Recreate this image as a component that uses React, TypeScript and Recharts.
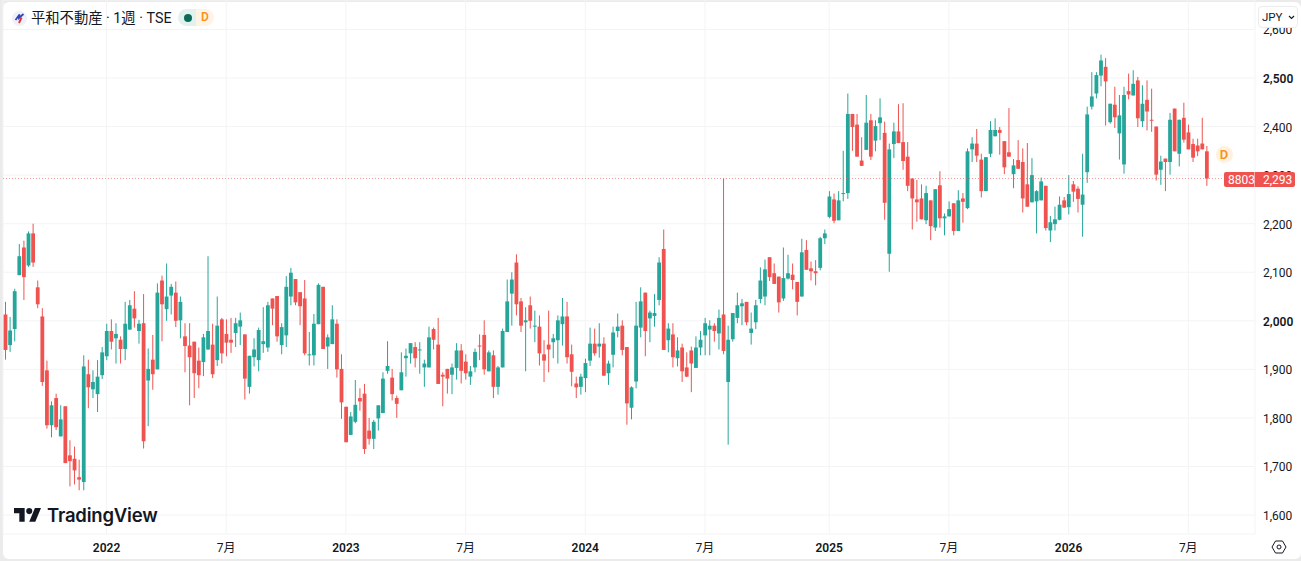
import React from "react";
import { ComposedChart, Bar, XAxis, YAxis, CartesianGrid, ReferenceLine } from "recharts";

const opens = [
  2013,1950,1983,2094,2151,2114,2180,2069,2009,1898,1785,1841,1762,1824,1723,1716,1678,1668,1890,1859,
  1849,1888,1927,1979,1964,1961,1942,1982,2025,1979,1995,1877,1920,1900,2083,2024,2052,2058,2001,1968,
  1949,1957,1918,1915,1941,1951,1919,2003,1973,1961,1975,1988,1972,1864,1925,1919,1952,1945,2046,2051,
  1950,1970,2050,2086,2059,2046,1930,1929,1993,2070,1947,1952,1994,1901,1823,1765,1792,1841,1850,1774,
  1757,1799,1810,1897,1883,1841,1857,1923,1933,1946,1940,1904,1904,1983,1951,1889,1901,1889,1903,1939,
  1916,1885,1904,1949,1971,1896,1929,1864,1904,1977,2056,2120,2040,1997,2032,1989,1988,1931,1951,1956,
  1960,1993,2009,1931,1871,1864,1882,1918,1953,1947,1953,1892,1930,1979,1990,1946,1821,1875,1986,2058,
  2005,2010,2043,2148,1960,1972,1923,1945,1904,1939,1903,1945,1970,1982,1990,1974,2013,1874,1962,2006,
  2030,2039,1975,1997,2045,2050,2131,2098,2091,2046,2087,2095,2080,2050,2146,2108,2102,2109,2170,2214,
  2250,2207,2262,2263,2426,2404,2330,2352,2413,2371,2407,2387,2138,2364,2390,2368,2338,2293,2250,2252,
  2207,2248,2192,2279,2211,2215,2242,2185,2252,2232,2353,2365,2332,2267,2344,2380,2393,2370,2347,2302,
  2331,2327,2281,2244,2246,2248,2278,2186,2199,2208,2248,2234,2281,2272,2239,2306,2441,2468,2505,2523,
  2409,2445,2386,2322,2473,2464,2495,2411,2455,2414,2400,2311,2334,2327,2437,2344,2418,2388,2364,2361,
  2365,2349,
];
const highs = [
  2039,2008,2066,2158,2165,2184,2200,2083,2026,1918,1834,1850,1826,1824,1754,1741,1714,1929,1920,1898,
  1919,1946,1994,2003,1995,1968,2039,2043,2061,2002,2055,1943,1971,2077,2093,2118,2076,2081,2050,1995,
  1995,1957,1945,1973,2133,1994,2050,2006,2003,2006,2006,2017,1972,1928,1964,1986,2028,2039,2046,2051,
  1995,2092,2109,2086,2059,2084,1977,2014,2077,2070,1972,2032,2003,1931,1823,1812,1878,1861,1870,1800,
  1796,1826,1894,1958,1901,1846,1935,1943,1954,1956,1956,1920,1988,1986,2006,1894,1901,1912,1954,1952,
  1931,1907,1943,1972,2001,1939,1939,1907,1984,2085,2100,2137,2047,2028,2050,2021,2011,1960,2021,1973,
  2011,2047,2039,1951,1885,1891,1922,1986,1984,1995,1966,1918,1988,2015,2001,1946,1865,2039,2069,2058,
  2021,2055,2131,2188,1995,1995,1966,1953,1935,1947,1968,1979,2006,2001,1995,2023,2293,1990,2016,2058,
  2045,2039,2017,2043,2110,2126,2131,2118,2091,2151,2136,2118,2080,2169,2166,2122,2125,2173,2188,2267,
  2262,2267,2350,2468,2426,2426,2378,2465,2426,2413,2458,2410,2365,2408,2446,2448,2368,2293,2290,2281,
  2278,2248,2271,2308,2221,2246,2242,2269,2263,2355,2378,2395,2344,2337,2411,2417,2399,2370,2438,2333,
  2372,2355,2366,2335,2269,2295,2278,2216,2235,2256,2255,2300,2288,2277,2344,2441,2512,2512,2548,2541,
  2447,2482,2465,2482,2509,2516,2502,2485,2495,2478,2400,2340,2334,2428,2437,2414,2449,2404,2375,2375,
  2418,2360,
];
const lows = [
  1920,1936,1958,2094,2043,2111,2111,2026,1866,1778,1760,1775,1762,1707,1659,1663,1651,1651,1820,1841,
  1812,1880,1919,1941,1912,1912,1919,1981,1986,1953,1737,1783,1858,1900,1958,2000,2013,1987,1964,1894,
  1826,1841,1861,1886,1940,1882,1907,1912,1927,1934,1946,1950,1838,1850,1906,1896,1934,1936,1991,1957,
  1931,1946,2032,2032,1991,1929,1908,1908,1993,1942,1901,1952,1883,1798,1750,1765,1789,1815,1726,1745,
  1736,1774,1810,1891,1836,1800,1857,1885,1912,1904,1891,1864,1904,1941,1870,1824,1850,1849,1879,1871,
  1879,1868,1894,1919,1889,1896,1841,1848,1904,1977,1990,2011,1977,1896,1984,1956,1908,1874,1894,1923,
  1912,1949,1912,1865,1841,1848,1853,1907,1928,1924,1887,1868,1904,1966,1929,1786,1797,1861,1966,1927,
  1956,1988,2032,1940,1935,1904,1906,1874,1884,1853,1903,1929,1929,1929,1957,1941,1931,1745,1957,1995,
  1991,1991,1951,1983,2036,2032,2082,2076,2017,2041,2085,2065,2011,2050,2105,2083,2073,2104,2158,2211,
  2201,2207,2246,2251,2350,2338,2319,2352,2331,2349,2372,2208,2101,2335,2366,2311,2267,2188,2204,2209,
  2199,2166,2185,2192,2176,2215,2176,2185,2202,2230,2327,2327,2254,2267,2337,2380,2342,2302,2338,2273,
  2313,2223,2235,2244,2180,2248,2186,2162,2186,2207,2233,2219,2245,2223,2173,2284,2435,2458,2483,2402,
  2406,2397,2332,2303,2456,2464,2399,2399,2392,2389,2289,2280,2267,2301,2349,2318,2367,2353,2327,2339,
  2353,2278,
];
const closes = [
  1940,1980,2061,2133,2090,2180,2120,2034,1874,1785,1826,1781,1797,1707,1711,1692,1673,1906,1863,1874,
  1885,1935,1979,1957,1973,1942,1994,2032,2005,1994,1752,1901,1890,2058,2034,2050,2070,2000,2039,1948,
  1925,1892,1888,1966,1979,1890,1990,1933,1955,1955,1995,2001,1881,1928,1941,1981,1958,2032,2025,1968,
  1987,2070,2099,2038,2030,1933,1931,1994,2074,1942,1966,2003,1900,1832,1750,1803,1827,1834,1736,1757,
  1792,1826,1881,1907,1849,1829,1894,1928,1954,1923,1941,1912,1966,1961,1870,1885,1881,1904,1939,1897,
  1892,1896,1936,1948,1900,1935,1864,1904,1979,2040,2085,2034,1990,2001,2000,1990,1933,1918,1941,1964,
  2001,2009,1925,1895,1863,1885,1913,1953,1933,1953,1887,1912,1976,1988,1940,1830,1863,1990,2040,1979,
  2017,2016,2120,1940,1984,1925,1939,1896,1885,1912,1945,1961,1995,1990,1979,2006,1938,1961,2016,2032,
  2036,1997,1984,2032,2083,2106,2090,2076,2038,2088,2098,2084,2039,2141,2105,2102,2098,2170,2180,2256,
  2206,2248,2263,2426,2399,2338,2319,2408,2338,2401,2419,2243,2353,2390,2366,2329,2278,2252,2244,2209,
  2263,2195,2271,2211,2215,2230,2185,2248,2245,2349,2365,2340,2267,2337,2393,2393,2387,2316,2338,2320,
  2313,2252,2235,2300,2267,2287,2191,2203,2209,2239,2233,2261,2266,2251,2260,2425,2462,2506,2536,2493,
  2447,2419,2423,2465,2466,2488,2417,2447,2431,2413,2301,2328,2327,2414,2349,2414,2373,2353,2336,2349,
  2353,2293,
];
const emptyWeeksAfter = 10;
const priceTicks = [1600,1700,1800,1900,2000,2100,2200,2300,2400,2500,2600];
const boldPrices = [2000,2500];
const priceDomain = [1561, 2660.6];
const timeTickWeeks = [22,48,74,100,126,152,179,205,231,257];
const timeTickLabels = ["2022","7月","2023","7月","2024","7月","2025","7月","2026","7月"];
const lastClose = 2293;
const lastCloseText = "2,293";
const symbolCode = "8803";

const UP = "#26a69a";
const DOWN = "#ef5350";
const INK = "#131722";
const GRID = "#f3f4f6";
const FONT = 'Roboto, "Noto Sans CJK JP", sans-serif';
const PLOT_H = 534;

const rows = [
  ...opens.map((o, i) => ({
    week: i, open: o, high: highs[i], low: lows[i], close: closes[i],
    range: [lows[i], highs[i]],
  })),
  ...Array.from({ length: emptyWeeksAfter }, (_, k) => ({ week: opens.length + k, range: null })),
];

function Candle(props: any) {
  const { x, y, width, height, payload } = props;
  if (!payload || payload.range == null || !height) return null;
  const { open, high, low, close } = payload;
  const k = height / (high - low);
  const cx = x + width / 2;
  const top = y + (high - Math.max(open, close)) * k;
  const bottom = y + (high - Math.min(open, close)) * k;
  const color = close >= open ? UP : DOWN;
  const bodyW = 3.8;
  return (
    <g>
      <line x1={cx} x2={cx} y1={y} y2={y + height} stroke={color} strokeWidth={1} />
      <rect x={cx - bodyW / 2} y={top} width={bodyW} height={Math.max(bottom - top, 1)} fill={color} />
    </g>
  );
}

function PriceTick(props: any) {
  const { x, y, payload } = props;
  const bold = boldPrices.includes(payload.value);
  return (
    <text x={x} y={y} dy={5} textAnchor="start" fontFamily={FONT} fontSize={12}
      fontWeight={bold ? 600 : 400} fill={INK}>
      {payload.value.toLocaleString("en-US")}
    </text>
  );
}

function TimeTick(props: any) {
  const { x, y, payload } = props;
  const label = timeTickLabels[timeTickWeeks.indexOf(payload.value)];
  const isYear = /^\d+$/.test(label ?? "");
  return (
    <text x={x} y={y} dy={5.5} textAnchor="middle" fontFamily={FONT} fontSize={12}
      fontWeight={isYear ? 600 : 400} fill={INK}>
      {label}
    </text>
  );
}

const abs = (s: React.CSSProperties): React.CSSProperties => ({ position: "absolute", ...s });

export default function App() {
  const lastY = ((priceDomain[1] - lastClose) / (priceDomain[1] - priceDomain[0])) * PLOT_H;
  return (
    <div style={abs({ left: 0, top: 0, width: 1301, height: 561, background: "#ebebeb", overflow: "hidden", fontFamily: FONT })}>
      <div style={abs({ left: 3, top: 2, width: 1298, height: 557, background: "#ffffff", borderRadius: 6 })} />
      <div style={abs({ left: 0, top: 0 })}>
        <ComposedChart width={1301} height={561} data={rows} barCategoryGap={0}
          margin={{ top: 0, right: 0, bottom: 0, left: 3 }}>
          <CartesianGrid stroke={GRID} strokeWidth={1} />
          <XAxis dataKey="week" type="category" ticks={timeTickWeeks} interval={0} height={27}
            axisLine={false} tickLine={false} tickMargin={6} tick={<TimeTick />} />
          <YAxis orientation="right" width={46} domain={priceDomain} allowDataOverflow ticks={priceTicks}
            axisLine={false} tickLine={false} tickMargin={0} tickSize={8} tick={<PriceTick />} />
          <Bar dataKey="range" shape={<Candle />} isAnimationActive={false} />
          <ReferenceLine y={lastClose} stroke={DOWN} strokeDasharray="1 2" strokeOpacity={0.6} />
        </ComposedChart>
      </div>

      {/* Last price badge, above the axis labels */}
      <div style={abs({ left: 1224, top: lastY - 7, width: 71, height: 15.5, background: DOWN, borderRadius: 2,
        color: "#ffffff", fontSize: 12, lineHeight: "16px", whiteSpace: "nowrap" })}>
        <span style={abs({ left: 4 })}>{symbolCode}</span>
        <span style={abs({ left: 30, top: 0, width: 1, height: 15.5, background: "rgba(255,255,255,0.5)" })} />
        <span style={abs({ left: 39 })}>{lastCloseText}</span>
      </div>

      {/* Header */}
      <div style={abs({ left: 12, top: 11, width: 15, height: 15, borderRadius: 8, background: "#eef0fa" })}>
        <svg width={15} height={15} viewBox="0 0 15 15" style={{ display: "block" }}>
          <path d="M3.5 9 L7.5 3.5 L7 7 L11.5 3" stroke="#2f45b5" strokeWidth={1.7} fill="none" />
          <path d="M9.5 6.5 L7 12" stroke="#e2333b" strokeWidth={1.9} fill="none" />
        </svg>
      </div>
      <div style={abs({ left: 31, top: 9, height: 18, lineHeight: "18px", fontSize: 14.3, color: INK, whiteSpace: "nowrap" })}>
        平和不動産 · 1週 · TSE
      </div>
      <div style={abs({ left: 178, top: 9, width: 18, height: 17, background: "#e1f2ee", borderRadius: "9px 0 0 9px" })}>
        <div style={abs({ left: 6, top: 4.5, width: 8, height: 8, borderRadius: 4, background: "#0b6b58" })} />
      </div>
      <div style={abs({ left: 196, top: 9, width: 18, height: 17, background: "#fff3e3", borderRadius: "0 9px 9px 0",
        color: "#f7931e", fontSize: 12, fontWeight: 600, textAlign: "center", lineHeight: "17px" })}>D</div>

      {/* Currency button */}
      <div style={abs({ left: 1258, top: 6, width: 40, height: 22, boxSizing: "border-box", background: "#ffffff",
        border: "1px solid #ececec", borderRadius: 4, fontSize: 11.5, color: INK, lineHeight: "21px", paddingLeft: 3 })}>
        JPY
        <svg width={7} height={5} viewBox="0 0 7 5" style={{ position: "absolute", left: 29, top: 8 }}>
          <path d="M1 1 L3.5 3.5 L6 1" stroke={INK} strokeWidth={1.1} fill="none" />
        </svg>
      </div>

      {/* Last value marker */}
      <div style={abs({ left: 1215.5, top: 145.5, width: 17, height: 17, borderRadius: 9, background: "#fff1dd",
        color: "#f7931e", fontSize: 13, fontWeight: 600, textAlign: "center", lineHeight: "17px" })}>D</div>

      {/* Watermark */}
      <svg width={27.4} height={21.3} viewBox="0 0 36 28" style={{ position: "absolute", left: 14, top: 505 }}>
        <path fill={INK} d="M14 22H7V11H0V4h14v18zM28 22h-8l7.5-18h8L28 22z" />
        <circle fill={INK} cx={20} cy={8} r={4} />
      </svg>
      <div style={abs({ left: 47, top: 503, fontFamily: "Inter, sans-serif", fontWeight: 600, fontSize: 18.5, lineHeight: "24px", color: INK, letterSpacing: -0.2, whiteSpace: "nowrap" })}>
        TradingView
      </div>

      {/* Settings */}
      <svg width={16} height={14} viewBox="0 0 16 14" style={{ position: "absolute", left: 1271, top: 540 }}>
        <path d="M1 7 L4.5 1 H11.5 L15 7 L11.5 13 H4.5 Z" fill="none" stroke={INK} strokeWidth={1} />
        <circle cx={8} cy={7} r={2} fill="none" stroke={INK} strokeWidth={1} />
      </svg>
    </div>
  );
}
